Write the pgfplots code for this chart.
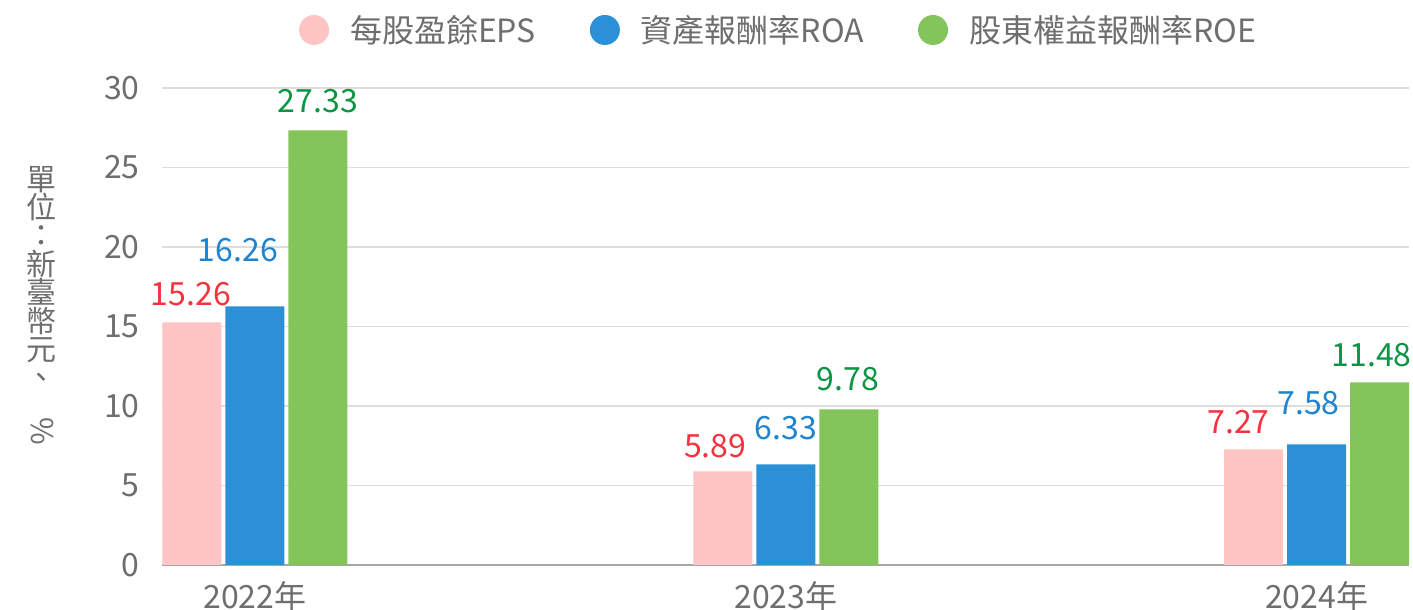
\documentclass[border=0pt]{standalone}
\usepackage{pgfplots}
\pgfplotsset{compat=1.18}
\usepackage{pgfplotstable}
\usepackage{graphicx}
\usepackage{fontspec}
\setmainfont{Noto Sans CJK TC}
\definecolor{epsbar}{HTML}{FFC5C5}
\definecolor{roabar}{HTML}{2B90D6}
\definecolor{roebar}{HTML}{84C55B}
\definecolor{epstxt}{HTML}{F5333F}
\definecolor{roatxt}{HTML}{1E84CF}
\definecolor{roetxt}{HTML}{0B9444}
\definecolor{txtgray}{HTML}{6E6E6E}

% x = year index, y = value, dx/dy = label offset (pt) from bar top
\pgfplotstableread{
x y     dx    dy
0 15.26 -0.5  14.25
1 5.89  -3.75 12.5
2 7.27  -7.5  13.75
}\eps
\pgfplotstableread{
x y     dx    dy
0 16.26 -8.5  28
1 6.33  0     18.25
2 7.58  -4    20.75
}\roa
\pgfplotstableread{
x y     dx    dy
0 27.33 0     14.5
1 9.78  -0.5  15
2 11.48 -4    13.5
}\roe

\pgfplotsset{
    barlabel/.style={
        visualization depends on=\thisrow{dx} \as \dx,
        visualization depends on=\thisrow{dy} \as \dy,
        every node near coord/.append style={text=#1,
            anchor=center, inner sep=0pt, xshift=\dx pt, yshift=\dy pt},
    },
}

\begin{document}
\begin{tikzpicture}
% page = 1413x610 px at 0.5pt per px, axis box lower left at (0,0)
\useasboundingbox (-81pt,-22.5pt) rectangle (625.5pt,282.5pt);

\begin{axis}[
    scale only axis,
    width=623.5pt, height=238.5pt,
    clip=false,
    ybar=2pt, bar width=29.5pt,
    xmin=-0.175, xmax=2.174,
    ymin=0, ymax=30,
    xtick={0,1,2},
    xticklabels={2022年,2023年,2024年},
    ytick={0,5,...,30},
    axis x line*=bottom, axis y line*=left,
    x axis line style={color=black!35, line width=0.8pt},
    y axis line style={draw=none},
    major tick length=0pt,
    ymajorgrids,
    grid style={color=black!13, line width=0.8pt},
    /pgf/number format/assume math mode=true,
    tick label style={font=\fontsize{16}{18}\selectfont, text=txtgray},
    yticklabel style={anchor=east, inner sep=0pt, xshift=-11pt},
    xticklabel style={anchor=north, inner sep=0pt, yshift=-8pt},
    nodes near coords={\pgfmathprintnumber[fixed,fixed zerofill,precision=2]{\pgfplotspointmeta}},
    every node near coord/.append style={font=\fontsize{16}{18}\selectfont},
    legend image code/.code={\fill[#1] (7.5pt,0pt) circle (7.5pt); \path (19.5pt,0pt);},
    legend style={at={(0.5,1)}, anchor=center, xshift=-3pt, yshift=29pt,
        draw=none, fill=none, legend columns=-1,
        font=\fontsize{16}{18}\selectfont, text=txtgray,
        /tikz/every even column/.append style={column sep=25pt},
        /tikz/every odd column/.append style={column sep=4pt}},
]
\addplot[draw=none, fill=epsbar, barlabel=epstxt] table[x=x, y=y] {\eps};
\addplot[draw=none, fill=roabar, barlabel=roatxt] table[x=x, y=y] {\roa};
\addplot[draw=none, fill=roebar, barlabel=roetxt] table[x=x, y=y] {\roe};
\legend{每股盈餘EPS,資產報酬率ROA,股東權益報酬率ROE}

% vertical unit label, one character per line
\node[text=txtgray, align=center, inner sep=0pt,
      font=\fontsize{15}{15.5}\selectfont]
    at ([xshift=-60pt, yshift=10.5pt]rel axis cs:0,0.5)
    {單\\[-1.3pt]位\\[-1.3pt]：\\[-1.3pt]新\\[-1.3pt]臺\\[-1.3pt]幣\\[-1.3pt]元\\[-1.3pt]、\\[-1.3pt]\rotatebox{-90}{\%}};
\end{axis}
\end{tikzpicture}
\end{document}
